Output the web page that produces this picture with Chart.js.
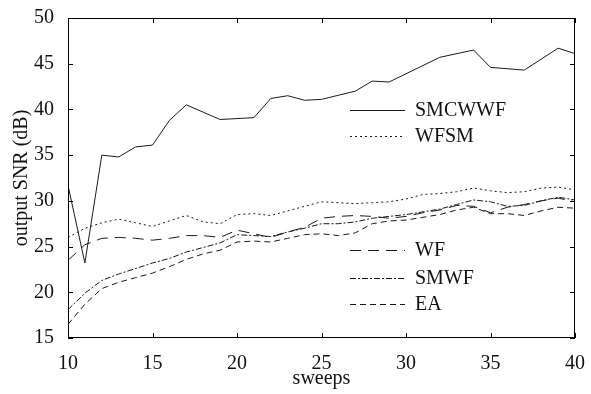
<!DOCTYPE html>
<html lang="en">
<head>
<meta charset="UTF-8">
<title>output SNR vs sweeps</title>
<script src="https://cdn.jsdelivr.net/npm/chart.js"></script>
<style>
  body { margin: 0; background: #fff; }
  canvas { display: block; }
</style>
</head>
<body>
<canvas id="grafico" width="591" height="394"></canvas>
<script>
// data
const sweepsSmcwwf = [10, 11, 12, 13, 14, 15, 16, 17, 19, 21, 22, 23, 24, 25, 27, 28, 29, 32, 34, 35, 37, 39, 40];
const smcwwf = [31.7, 23.2, 35.0, 34.8, 35.9, 36.1, 38.8, 40.5, 38.9, 39.1, 41.2, 41.5, 41.0, 41.1, 42.0, 43.1, 43.0, 45.7, 46.5, 44.6, 44.3, 46.7, 46.1];

const sweeps = [10, 11, 12, 13, 14, 15, 16, 17, 18, 19, 20, 21, 22, 23, 24, 25, 26, 27, 28, 29, 30, 31, 32, 33, 34, 35, 36, 37, 38, 39, 40];
const wfsm = [26.0, 27.0, 27.6, 28.0, 27.6, 27.2, 27.8, 28.4, 27.7, 27.5, 28.5, 28.6, 28.4, 28.9, 29.4, 29.9, 29.8, 29.7, 29.8, 29.9, 30.2, 30.7, 30.8, 31.0, 31.4, 31.1, 30.9, 31.0, 31.4, 31.5, 31.2];
const wf = [23.5, 25.2, 25.9, 26.0, 25.9, 25.7, 25.9, 26.2, 26.2, 26.0, 26.8, 26.4, 26.0, 26.6, 27.1, 28.1, 28.3, 28.4, 28.3, 28.1, 28.3, 28.7, 29.0, 29.5, 29.4, 28.7, 29.3, 29.6, 30.0, 30.3, 29.9];
const smwf = [18.1, 19.9, 21.3, 22.0, 22.6, 23.2, 23.7, 24.4, 24.9, 25.4, 26.3, 26.2, 26.1, 26.6, 27.0, 27.5, 27.5, 27.7, 28.1, 28.3, 28.5, 28.8, 29.1, 29.6, 30.1, 29.9, 29.4, 29.5, 30.0, 30.4, 30.1];
const ea = [16.5, 18.7, 20.4, 21.1, 21.6, 22.1, 22.8, 23.6, 24.2, 24.6, 25.5, 25.6, 25.5, 25.9, 26.3, 26.4, 26.2, 26.5, 27.5, 27.8, 27.9, 28.2, 28.5, 29.0, 29.3, 28.6, 28.6, 28.4, 28.9, 29.3, 29.2];

const xTicks = [10, 15, 20, 25, 30, 35, 40];
const yTicks = [15, 20, 25, 30, 35, 40, 45, 50];

function pontos(xs, ys) {
    return xs.map((x, i) => ({ x: x, y: ys[i] }));
}

const fonte = "'Liberation Serif', 'DejaVu Serif', serif";
const cor = '#1a1a1a';

function serie(label, xs, ys, dash) {
    return {
        label: label,
        data: pontos(xs, ys),
        borderColor: cor,
        borderWidth: 1,
        borderDash: dash,
        pointRadius: 0,
        tension: 0,
        fill: false
    };
}

// legend rows (pixel y of each row) - drawn by hand inside the plot
const legendaLinhas = [
    { i: 0, y: 110 },
    { i: 1, y: 136 },
    { i: 2, y: 250 },
    { i: 3, y: 278 },
    { i: 4, y: 304 }
];

const moldura = {
    id: 'moldura',
    afterDatasetsDraw(chart) {
        const { ctx, chartArea: a, scales: { x, y } } = chart;
        ctx.save();
        ctx.strokeStyle = '#000';
        ctx.lineWidth = 1;
        ctx.setLineDash([]);
        ctx.strokeRect(Math.round(a.left) + 0.5, Math.round(a.top) + 0.5,
            Math.round(a.width) - 1, Math.round(a.height) - 1);

        const tam = 5;
        ctx.beginPath();
        xTicks.forEach(v => {
            const px = Math.round(x.getPixelForValue(v)) + 0.5;
            ctx.moveTo(px, a.bottom); ctx.lineTo(px, a.bottom - tam);
            ctx.moveTo(px, a.top); ctx.lineTo(px, a.top + tam);
        });
        yTicks.forEach(v => {
            const py = Math.round(y.getPixelForValue(v)) + 0.5;
            ctx.moveTo(a.left, py); ctx.lineTo(a.left + tam, py);
            ctx.moveTo(a.right, py); ctx.lineTo(a.right - tam, py);
        });
        ctx.stroke();

        // legenda
        ctx.font = '20px ' + fonte;
        ctx.fillStyle = '#111';
        ctx.textBaseline = 'middle';
        legendaLinhas.forEach(l => {
            const ds = chart.data.datasets[l.i];
            ctx.beginPath();
            ctx.strokeStyle = cor;
            ctx.lineWidth = 1.2;
            ctx.setLineDash(ds.borderDash || []);
            ctx.moveTo(350, l.y + 0.5);
            ctx.lineTo(405, l.y + 0.5);
            ctx.stroke();
            ctx.fillText(ds.label, 415, l.y + 1);
        });
        ctx.restore();
    }
};

new Chart(document.getElementById('grafico'), {
    type: 'line',
    data: {
        datasets: [
            serie('SMCWWF', sweepsSmcwwf, smcwwf, []),
            serie('WFSM', sweeps, wfsm, [2, 3]),
            serie('WF', sweeps, wf, [11, 7]),
            serie('SMWF', sweeps, smwf, [6, 2, 2, 2]),
            serie('EA', sweeps, ea, [6, 4])
        ]
    },
    options: {
        responsive: false,
        animation: false,
        layout: { padding: { top: 11, right: 14, left: 0, bottom: 0 } },
        plugins: {
            legend: { display: false },
            tooltip: { enabled: false }
        },
        scales: {
            x: {
                type: 'linear',
                min: 10,
                max: 40,
                afterFit: s => { s.height = 56; },
                afterBuildTicks: s => { s.ticks = xTicks.map(v => ({ value: v })); },
                grid: { display: false },
                border: { display: false },
                ticks: { color: '#111', padding: 6, maxRotation: 0, font: { family: fonte, size: 20 } },
                title: { display: true, text: 'sweeps', color: '#111', padding: { top: 0, bottom: 3 }, font: { family: fonte, size: 20 } }
            },
            y: {
                min: 15,
                max: 50,
                afterFit: s => { s.width = 68; },
                afterBuildTicks: s => { s.ticks = yTicks.map(v => ({ value: v })); },
                grid: { display: false },
                border: { display: false },
                ticks: { color: '#111', padding: 6, font: { family: fonte, size: 20 } },
                title: { display: true, text: 'output SNR (dB)', color: '#111', padding: { top: 10, bottom: 0 }, font: { family: fonte, size: 20 } }
            }
        }
    },
    plugins: [moldura]
});
</script>
</body>
</html>
